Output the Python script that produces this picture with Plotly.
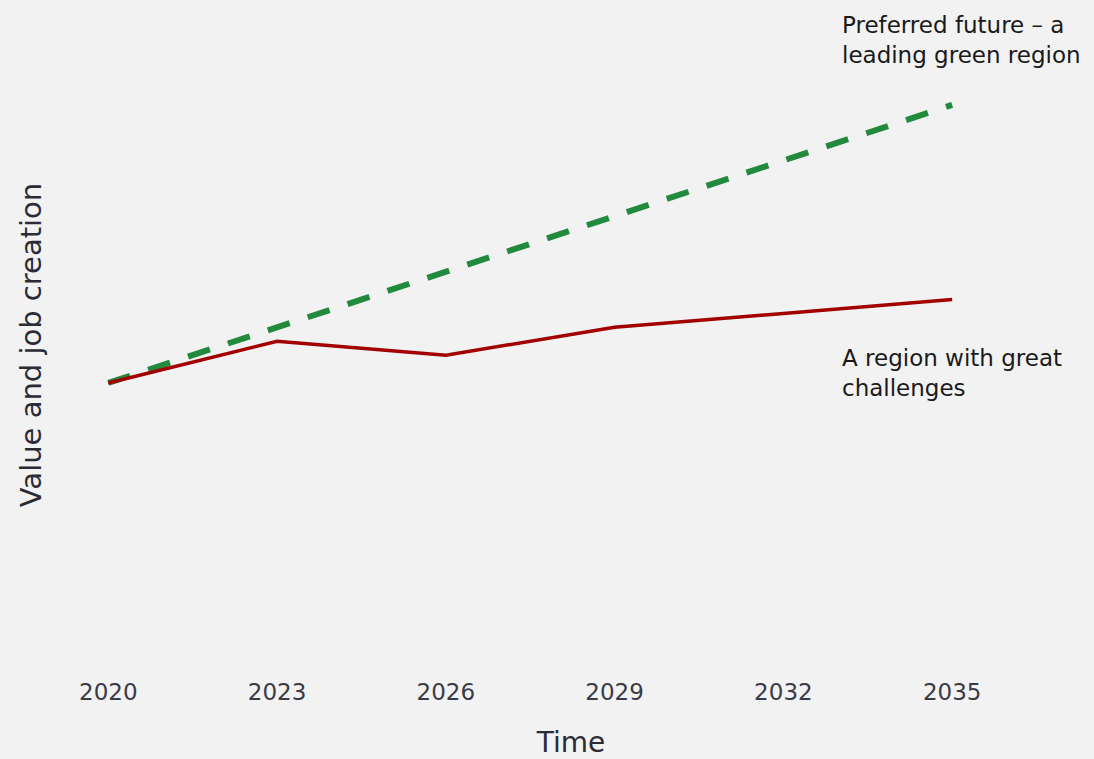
import plotly.graph_objects as go

years = [2020, 2023, 2026, 2029, 2032, 2035]
green_future = [100, 120, 140, 160, 180, 200]
challenges = [100, 115, 110, 120, 125, 130]

label_green = "Preferred future – a<br>leading green region"
label_red = "A region with great<br>challenges"

BG = "#f2f2f2"
FONT = "DejaVu Sans"

fig = go.Figure()
fig.add_trace(go.Scatter(
    x=years, y=green_future, mode="lines",
    line=dict(color="#218a3d", width=6, dash="23px,19px"),
    showlegend=False, hoverinfo="skip",
))
fig.add_trace(go.Scatter(
    x=years, y=challenges, mode="lines",
    line=dict(color="#a30000", width=3.5),
    showlegend=False, hoverinfo="skip",
))

fig.add_annotation(x=2033.0, y=green_future[-1], yshift=65, text=label_green,
                   xref="x", yref="y", xanchor="left", yanchor="middle", align="left",
                   showarrow=False, font=dict(family=FONT, size=23, color="#1a1a1a"))
fig.add_annotation(x=2033.0, y=challenges[-1], yshift=-73.5, text=label_red,
                   xref="x", yref="y", xanchor="left", yanchor="middle", align="left",
                   showarrow=False, font=dict(family=FONT, size=23, color="#1a1a1a"))

fig.update_layout(
    width=1094, height=759,
    paper_bgcolor=BG, plot_bgcolor=BG,
    margin=dict(l=52, r=4, t=29, b=98),
    font=dict(family=FONT, color="#3b3b45"),
    xaxis=dict(
        range=[2019, 2037.45], tickvals=years, ticktext=[str(y) for y in years],
        showgrid=False, zeroline=False, showline=False, ticks="",
        tickfont=dict(size=23, color="#3b3b45"), ticklabelstandoff=15,
        title=dict(text="Time", font=dict(size=28, color="#2b2b35"), standoff=30),
    ),
    yaxis=dict(
        range=[0, 227.3], showgrid=False, zeroline=False, showline=False,
        showticklabels=False, ticks="",
        title=dict(text="Value and job creation", font=dict(size=29, color="#2b2b35"), standoff=0),
    ),
)

fig.write_html("out.html")
